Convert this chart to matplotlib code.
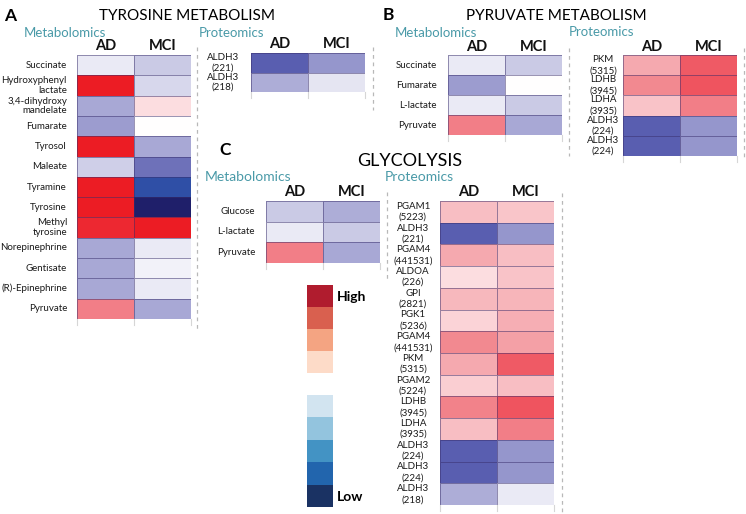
import numpy as np
import matplotlib.pyplot as plt
from matplotlib.colors import LinearSegmentedColormap, Normalize, ListedColormap
from matplotlib.lines import Line2D

plt.rcParams['font.family'] = ['Lato', 'DejaVu Sans']

W, H = 746, 514

# ---- data (relative change, -1 = lowest, +1 = highest) ----
groups = ['AD', 'MCI']

tyr_met_labels = ['Succinate', 'Hydroxyphenyl\nlactate', '3,4-dihydroxy\nmandelate', 'Fumarate',
                  'Tyrosol', 'Maleate', 'Tyramine', 'Tyrosine', 'Methyl\ntyrosine',
                  'Norepinephrine', 'Gentisate', '(R)-Epinephrine', 'Pyruvate']
tyr_met_ad = [-0.1, 1.0, -0.4, -0.45, 1.0, -0.22, 1.0, 1.0, 0.95, -0.4, -0.4, -0.4, 0.6]
tyr_met_mci = [-0.25, -0.18, 0.15, 0.0, -0.4, -0.62, -0.85, -1.0, 1.0, -0.1, -0.06, -0.1, -0.4]

tyr_prot_labels = ['ALDH3\n(221)', 'ALDH3\n(218)']
tyr_prot_ad = [-0.7, -0.38]
tyr_prot_mci = [-0.47, -0.12]

pyr_met_labels = ['Succinate', 'Fumarate', 'L-lactate', 'Pyruvate']
pyr_met_ad = [-0.1, -0.45, -0.1, 0.6]
pyr_met_mci = [-0.25, 0.0, -0.25, -0.4]

pyr_prot_labels = ['PKM\n(5315)', 'LDHB\n(3945)', 'LDHA\n(3935)', 'ALDH3\n(224)', 'ALDH3\n(224)']
pyr_prot_ad = [0.4, 0.55, 0.28, -0.7, -0.7]
pyr_prot_mci = [0.75, 0.78, 0.6, -0.47, -0.47]

gly_met_labels = ['Glucose', 'L-lactate', 'Pyruvate']
gly_met_ad = [-0.25, -0.1, 0.6]
gly_met_mci = [-0.38, -0.25, -0.4]

gly_prot_labels = ['PGAM1\n(5223)', 'ALDH3\n(221)', 'PGAM4\n(441531)', 'ALDOA\n(226)', 'GPI\n(2821)',
                   'PGK1\n(5236)', 'PGAM4\n(441531)', 'PKM\n(5315)', 'PGAM2\n(5224)', 'LDHB\n(3945)',
                   'LDHA\n(3935)', 'ALDH3\n(224)', 'ALDH3\n(224)', 'ALDH3\n(218)']
gly_prot_ad = [0.3, -0.7, 0.4, 0.15, 0.33, 0.2, 0.55, 0.4, 0.22, 0.58, 0.3, -0.7, -0.7, -0.38]
gly_prot_mci = [0.27, -0.47, 0.3, 0.28, 0.35, 0.38, 0.45, 0.75, 0.3, 0.78, 0.6, -0.47, -0.47, -0.1]

legend_high = ['#b01c2e', '#d9604f', '#f4a482', '#fddbc8']
legend_low = ['#d2e4f0', '#93c4de', '#4393c4', '#2265ad', '#1a3263']

# colour scale of the heatmaps
cmap = LinearSegmentedColormap.from_list('bwr_custom', [
    (0.0, '#1f1f6a'), (0.075, '#2f4fa6'), (0.15, '#5a5eb0'), (0.3, '#a9a9d5'),
    (0.5, '#ffffff'), (0.6, '#fbd3d7'), (0.725, '#f4a0a6'), (0.875, '#ef5c67'),
    (1.0, '#ec1c24')])
norm = Normalize(-1, 1)
teal = '#4a9aa8'

fig = plt.figure(figsize=(W / 100, H / 100), dpi=100)


def add_ax(x0, y0, x1, y1):
    return fig.add_axes([x0 / W, 1 - y1 / H, (x1 - x0) / W, (y1 - y0) / H])


def ftext(x, y, s, **kw):
    fig.text(x / W, 1 - y / H, s, **kw)


def dashed(x, y0, y1):
    fig.add_artist(Line2D([x / W, x / W], [1 - y0 / H, 1 - y1 / H],
                          ls=(0, (3, 3)), color='#b8b8b8', lw=0.9))


def heat(rect, ad, mci, labels, label_x, align, header_y, fs=7, ls=1.2):
    x0, y0, x1, y1 = rect
    ax = add_ax(*rect)
    n = len(ad)
    vals = np.column_stack([ad, mci])
    ax.pcolormesh(vals, cmap=cmap, norm=norm, edgecolors=(0.22, 0.18, 0.42, 0.5), linewidth=0.7)
    ax.set_xlim(0, 2)
    ax.set_ylim(n, 0)
    ax.set_axis_off()
    colw = (x1 - x0) / 2
    rowh = (y1 - y0) / n
    lx = (label_x - x0) / colw
    for i, lab in enumerate(labels):
        ax.text(lx, i + 0.5, lab, ha=align, va='center', fontsize=fs,
                linespacing=ls, color='#1a1a1a')
    hy = (header_y - y0) / rowh
    for j, g in enumerate(groups):
        ax.text(j + 0.5, hy, g, ha='center', va='center', fontsize=10.5,
                fontweight='bold', color='#111111')
    for xv in range(3):
        ax.plot([xv, xv], [n, n + 6 / rowh], color='#d6d6d6', lw=0.8, clip_on=False)
    return ax


# ---- A: tyrosine metabolism ----
ftext(10, 16, 'A', fontsize=12.5, fontweight='bold', ha='center', va='center')
ftext(187, 16, 'TYROSINE METABOLISM', fontsize=11, ha='center', va='center')
ftext(65, 33, 'Metabolomics', fontsize=9.5, color=teal, ha='center', va='center')
ftext(231, 33, 'Proteomics', fontsize=9.5, color=teal, ha='center', va='center')
heat((77, 55, 191, 319), tyr_met_ad, tyr_met_mci, tyr_met_labels, 67, 'right', 46, ls=1.05)
heat((251, 53, 365, 92), tyr_prot_ad, tyr_prot_mci, tyr_prot_labels, 223, 'center', 44, ls=1.1)
dashed(197, 47, 330)
dashed(373, 47, 110)

# ---- B: pyruvate metabolism ----
ftext(388, 15, 'B', fontsize=12.5, fontweight='bold', ha='center', va='center')
ftext(556, 16, 'PYRUVATE METABOLISM', fontsize=11, ha='center', va='center')
ftext(436, 33, 'Metabolomics', fontsize=9.5, color=teal, ha='center', va='center')
ftext(602, 32, 'Proteomics', fontsize=9.5, color=teal, ha='center', va='center')
heat((448, 55, 562, 135), pyr_met_ad, pyr_met_mci, pyr_met_labels, 437, 'right', 47)
heat((623, 55, 737, 156), pyr_prot_ad, pyr_prot_mci, pyr_prot_labels, 603, 'center', 47, ls=1.3)
dashed(569, 48, 156)
dashed(744, 48, 160)

# ---- C: glycolysis ----
ftext(225, 150, 'C', fontsize=12.5, fontweight='bold', ha='center', va='center')
ftext(410, 161, 'GLYCOLYSIS', fontsize=13, ha='center', va='center')
ftext(248, 177, 'Metabolomics', fontsize=10, color=teal, ha='center', va='center')
ftext(419, 177, 'Proteomics', fontsize=10, color=teal, ha='center', va='center')
heat((266, 201, 380, 263), gly_met_ad, gly_met_mci, gly_met_labels, 255, 'right', 192)
heat((440, 201, 554, 505), gly_prot_ad, gly_prot_mci, gly_prot_labels, 413, 'center', 192, ls=1.3)
dashed(387, 192, 282)
dashed(562, 193, 512)

# ---- legend ----
for (y0, y1), colors in [((285, 373), legend_high), ((395, 507), legend_low)]:
    lax = add_ax(307, y0, 333, y1)
    lax.imshow(np.arange(len(colors)).reshape(-1, 1), cmap=ListedColormap(colors),
               aspect='auto', interpolation='nearest')
    lax.set_axis_off()
ftext(337, 297, 'High', fontsize=10, fontweight='bold', ha='left', va='center')
ftext(337, 497, 'Low', fontsize=10, fontweight='bold', ha='left', va='center')

fig.savefig('out.png', dpi=100)
